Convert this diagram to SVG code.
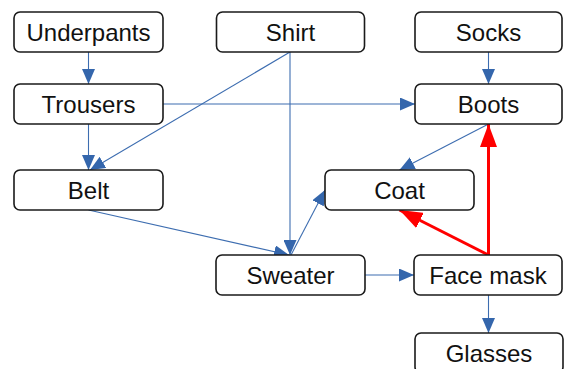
<svg xmlns="http://www.w3.org/2000/svg" width="564" height="369" viewBox="0 0 564 369">
<style>
.n rect{fill:#fff;stroke:#1a1a1a;stroke-width:1.6}
.n text{font-family:"Liberation Sans",Arial,sans-serif;font-size:24px;fill:#111;text-anchor:middle}
.e{stroke:#3d6db0;stroke-width:1.1;fill:none}
.r{stroke:#ff0000;stroke-width:3;fill:none}
</style>
<defs>
<marker id="ab" markerWidth="15" markerHeight="13" refX="15" refY="6.5" orient="auto" markerUnits="userSpaceOnUse"><path d="M0,0L15,6.5L0,13z" fill="#3466ac"/></marker>
<marker id="ar" markerWidth="23" markerHeight="17" refX="23" refY="8.5" orient="auto" markerUnits="userSpaceOnUse"><path d="M0,0L23,8.5L0,17z" fill="#ff0000"/></marker>
</defs>
<rect width="564" height="369" fill="#fff"/>
<g id="connectors">
<line class="e" x1="88.5" y1="52" x2="88.5" y2="84" marker-end="url(#ab)"/>
<line class="e" x1="88.5" y1="124" x2="88.5" y2="170" marker-end="url(#ab)"/>
<line class="e" x1="163" y1="104" x2="415" y2="104" marker-end="url(#ab)"/>
<line class="e" x1="290" y1="52" x2="90" y2="170" marker-end="url(#ab)"/>
<line class="e" x1="290" y1="52" x2="290" y2="255" marker-end="url(#ab)"/>
<line class="e" x1="488.5" y1="52" x2="488.5" y2="84" marker-end="url(#ab)"/>
<line class="e" x1="488.5" y1="124" x2="399.5" y2="170" marker-end="url(#ab)"/>
<line class="e" x1="88.5" y1="210" x2="289" y2="255" marker-end="url(#ab)"/>
<line class="e" x1="291" y1="255" x2="325" y2="190" marker-end="url(#ab)"/>
<line class="e" x1="365" y1="275" x2="414" y2="275" marker-end="url(#ab)"/>
<line class="e" x1="488.5" y1="295" x2="488.5" y2="333" marker-end="url(#ab)"/>
<line class="r" x1="488.5" y1="255" x2="399.5" y2="210" marker-end="url(#ar)"/>
<line class="r" x1="488.5" y1="255" x2="488.5" y2="124" marker-end="url(#ar)"/>
</g>
<g id="underpants" class="n"><rect x="14" y="12" width="149" height="40" rx="6"/><text x="88.5" y="40.5">Underpants</text></g>
<g id="shirt" class="n"><rect x="216.5" y="12" width="148" height="40" rx="6"/><text x="290.5" y="40.5">Shirt</text></g>
<g id="socks" class="n"><rect x="415" y="12" width="147" height="40" rx="6"/><text x="488.5" y="40.5">Socks</text></g>
<g id="trousers" class="n"><rect x="14" y="84" width="149" height="40" rx="6"/><text x="88.5" y="112.5">Trousers</text></g>
<g id="boots" class="n"><rect x="415" y="84" width="147" height="40" rx="6"/><text x="488.5" y="112.5">Boots</text></g>
<g id="belt" class="n"><rect x="14" y="170" width="149" height="40" rx="6"/><text x="88.5" y="198.5">Belt</text></g>
<g id="coat" class="n"><rect x="325" y="170" width="149" height="40" rx="6"/><text x="399.5" y="198.5">Coat</text></g>
<g id="sweater" class="n"><rect x="216" y="255" width="149" height="40" rx="6"/><text x="290.5" y="283.5">Sweater</text></g>
<g id="facemask" class="n"><rect x="414" y="255" width="148" height="40" rx="6"/><text x="488" y="283.5">Face mask</text></g>
<g id="glasses" class="n"><rect x="415" y="333" width="148" height="40" rx="6"/><text x="489" y="361.5">Glasses</text></g>
</svg>
